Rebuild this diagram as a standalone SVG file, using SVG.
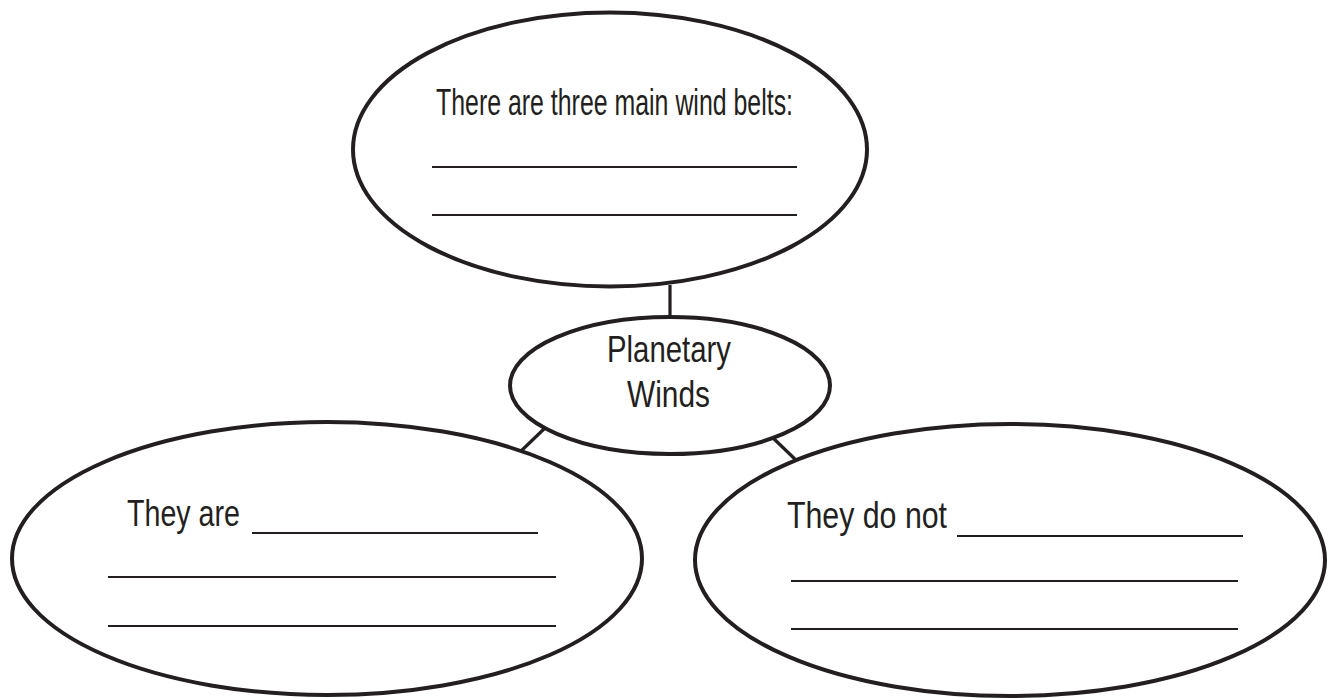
<svg xmlns="http://www.w3.org/2000/svg" width="1335" height="698" viewBox="0 0 1335 698">
<style>
.bubble{fill:#fff;stroke:#231f20;stroke-width:4}
.blank{stroke:#231f20;stroke-width:2.2;fill:none}
.conn{stroke:#231f20;stroke-width:3.2;fill:none}
.t{font-family:"Liberation Sans Narrow","Liberation Sans",Arial,sans-serif;font-size:36px;fill:#231f20}
</style>
<rect width="1335" height="698" fill="#fff"/>
<g id="connectors">
<line class="conn" x1="670" y1="285" x2="670" y2="319"/>
<line class="conn" x1="545" y1="428" x2="520" y2="452"/>
<line class="conn" x1="772" y1="437" x2="798" y2="462"/>
</g>
<g id="node-belts">
<ellipse class="bubble" cx="610" cy="149.5" rx="257" ry="137"/>
<text class="t" x="436" y="115" textLength="357" lengthAdjust="spacingAndGlyphs">There are three main wind belts:</text>
<line class="blank" x1="432" y1="167" x2="797" y2="167"/>
<line class="blank" x1="432" y1="215" x2="797" y2="215"/>
</g>
<g id="node-planetary">
<ellipse class="bubble" cx="670" cy="385.5" rx="160" ry="68.5"/>
<text class="t" x="607" y="362" textLength="124" lengthAdjust="spacingAndGlyphs">Planetary</text>
<text class="t" x="627" y="407" textLength="83" lengthAdjust="spacingAndGlyphs">Winds</text>
</g>
<g id="node-they-are">
<ellipse class="bubble" cx="327" cy="558.5" rx="315" ry="136.5"/>
<text class="t" x="127" y="526" textLength="113" lengthAdjust="spacingAndGlyphs">They are</text>
<line class="blank" x1="252" y1="533" x2="538" y2="533"/>
<line class="blank" x1="108" y1="577" x2="556" y2="577"/>
<line class="blank" x1="108" y1="626" x2="556" y2="626"/>
</g>
<g id="node-they-do-not">
<ellipse class="bubble" cx="1010" cy="560" rx="315" ry="136"/>
<text class="t" x="787" y="528" textLength="160" lengthAdjust="spacingAndGlyphs">They do not</text>
<line class="blank" x1="957" y1="536" x2="1243" y2="536"/>
<line class="blank" x1="791" y1="581" x2="1238" y2="581"/>
<line class="blank" x1="791" y1="629" x2="1238" y2="629"/>
</g>
</svg>
